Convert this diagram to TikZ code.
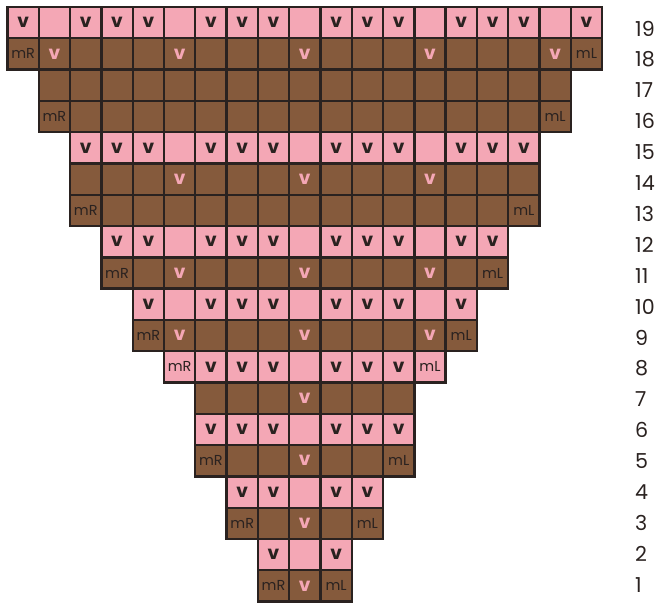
\documentclass[tikz,border=0pt]{standalone}
\usepackage{fontspec}
\setmainfont{Poppins}

\definecolor{knitpink}{HTML}{F4A7B5}
\definecolor{knitbrown}{HTML}{855A3C}
\definecolor{ink}{HTML}{2A2220}

% cell contents: v = slip mark, R/L = make right/left, o = nothing
\newcommand{\symv}{{\fontsize{13.5}{13.5}\selectfont\bfseries v}}
\newcommand{\symR}{{\color{ink}mR}}
\newcommand{\symL}{{\color{ink}mL}}
\newcommand{\symo}{}

% #1 row, #2 first column, #3 cell style, #4 codes
\newcommand{\chartrow}[4]{%
    \foreach \code [count=\col from #2] in {#4} {
        \node[#3] (r#1-\col) at (\col+0.5, #1-0.5) {\csname sym\code\endcsname};
    }
}

\begin{document}
\begin{tikzpicture}[
        x=0.8cm, y=0.8cm,
        cell/.style={rectangle, minimum size=0.8cm, inner sep=0pt, outer sep=0pt, draw=ink, line width=1.7pt, font=\fontsize{10.5}{10.5}\selectfont},
        pinkcell/.style={cell, fill=knitpink, text=ink},
        browncell/.style={cell, fill=knitbrown, text=knitpink},
        rownum/.style={anchor=west, inner sep=0pt, text=ink, font=\fontsize{15}{15}\selectfont}
    ]
        \useasboundingbox (-0.24,-0.128) rectangle (21.17,19.224);

        \chartrow{19}{0}{pinkcell}{v,o,v,v,v,o,v,v,v,o,v,v,v,o,v,v,v,o,v}
        \chartrow{18}{0}{browncell}{R,v,o,o,o,v,o,o,o,v,o,o,o,v,o,o,o,v,L}
        \chartrow{17}{1}{browncell}{o,o,o,o,o,o,o,o,o,o,o,o,o,o,o,o,o}
        \chartrow{16}{1}{browncell}{R,o,o,o,o,o,o,o,o,o,o,o,o,o,o,o,L}
        \chartrow{15}{2}{pinkcell}{v,v,v,o,v,v,v,o,v,v,v,o,v,v,v}
        \chartrow{14}{2}{browncell}{o,o,o,v,o,o,o,v,o,o,o,v,o,o,o}
        \chartrow{13}{2}{browncell}{R,o,o,o,o,o,o,o,o,o,o,o,o,o,L}
        \chartrow{12}{3}{pinkcell}{v,v,o,v,v,v,o,v,v,v,o,v,v}
        \chartrow{11}{3}{browncell}{R,o,v,o,o,o,v,o,o,o,v,o,L}
        \chartrow{10}{4}{pinkcell}{v,o,v,v,v,o,v,v,v,o,v}
        \chartrow{9}{4}{browncell}{R,v,o,o,o,v,o,o,o,v,L}
        \chartrow{8}{5}{pinkcell}{R,v,v,v,o,v,v,v,L}
        \chartrow{7}{6}{browncell}{o,o,o,v,o,o,o}
        \chartrow{6}{6}{pinkcell}{v,v,v,o,v,v,v}
        \chartrow{5}{6}{browncell}{R,o,o,v,o,o,L}
        \chartrow{4}{7}{pinkcell}{v,v,o,v,v}
        \chartrow{3}{7}{browncell}{R,o,v,o,L}
        \chartrow{2}{8}{pinkcell}{v,o,v}
        \chartrow{1}{8}{browncell}{R,v,L}

        % row numbers
        \foreach \r in {1,...,19}
            \node[rownum] (n\r) at (20.05, {0.54+(\r-1)*0.987}) {\r};
    \end{tikzpicture}
\end{document}
